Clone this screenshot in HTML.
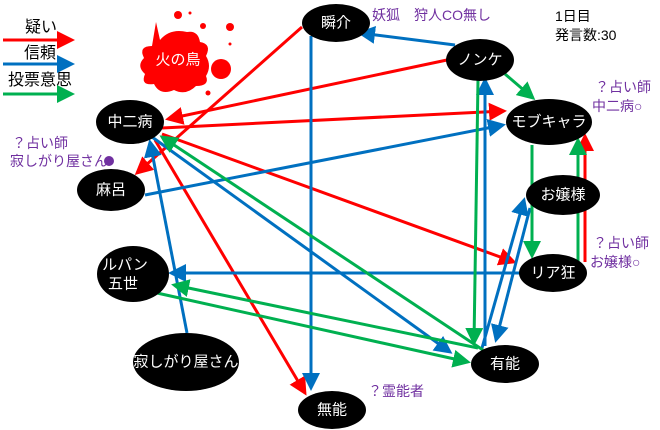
<!DOCTYPE html>
<html><head><meta charset="utf-8"><style>
html,body{margin:0;padding:0;background:#fff;}
svg{display:block;}
text{font-family:"Liberation Sans","Noto Sans CJK JP",sans-serif;}
.n{fill:#fff;font-size:15px;text-anchor:middle;dominant-baseline:central;}
.p{fill:#7030a0;font-size:14px;}
.k{fill:#000;font-size:14px;}
.l{fill:#000;font-size:16px;}
</style></head><body>
<svg width="660" height="430" viewBox="0 0 660 430" xmlns="http://www.w3.org/2000/svg">
<defs>
<marker id="r" markerWidth="6" markerHeight="6" refX="5" refY="3" orient="auto" markerUnits="strokeWidth"><path d="M0,0 L6,3 L0,6 z" fill="#ff0000"/></marker>
<marker id="b" markerWidth="6" markerHeight="6" refX="5" refY="3" orient="auto" markerUnits="strokeWidth"><path d="M0,0 L6,3 L0,6 z" fill="#0070c0"/></marker>
<marker id="g" markerWidth="6" markerHeight="6" refX="5" refY="3" orient="auto" markerUnits="strokeWidth"><path d="M0,0 L6,3 L0,6 z" fill="#00b050"/></marker>
</defs>

<!-- legend -->
<text class="l" x="25" y="32">疑い</text>
<line x1="3" y1="40" x2="72" y2="40" stroke="#ff0000" stroke-width="3" marker-end="url(#r)"/>
<text class="l" x="24" y="58">信頼</text>
<line x1="3" y1="64" x2="72" y2="64" stroke="#0070c0" stroke-width="3" marker-end="url(#b)"/>
<text class="l" x="8" y="85">投票意思</text>
<line x1="3" y1="94" x2="72" y2="94" stroke="#00b050" stroke-width="3" marker-end="url(#g)"/>

<!-- splash -->
<g fill="#ff0000">
<path d="M156,22 L160,40 Q170,28 187,32 Q198,30 200,42 Q212,44 206,56 Q212,66 206,76 Q210,86 196,86 Q186,96 174,90 Q160,96 154,84 Q140,86 145,74 Q136,66 144,58 Q138,46 152,46 Z"/>
<circle cx="178" cy="15" r="4"/><circle cx="190" cy="13" r="1.5"/><circle cx="203" cy="26" r="3"/><circle cx="230" cy="27" r="4"/><circle cx="230" cy="44" r="1.5"/><circle cx="221" cy="69" r="10"/><circle cx="208" cy="93" r="2.5"/>
</g>
<text class="n" x="178" y="60">火の鳥</text>

<!-- lines -->
<g stroke-width="3" fill="none">
<line x1="302" y1="27" x2="137" y2="173" stroke="#ff0000" marker-end="url(#r)"/>
<line x1="447" y1="60" x2="168" y2="119" stroke="#ff0000" marker-end="url(#r)"/>
<line x1="162" y1="128" x2="504" y2="111" stroke="#ff0000" marker-end="url(#r)"/>
<line x1="162" y1="134" x2="514" y2="262" stroke="#ff0000" marker-end="url(#r)"/>
<line x1="155" y1="140" x2="305" y2="393" stroke="#ff0000" marker-end="url(#r)"/>
<line x1="585" y1="262" x2="585" y2="136" stroke="#ff0000" marker-end="url(#r)"/>

<line x1="455" y1="45" x2="360" y2="33" stroke="#0070c0" marker-end="url(#b)"/>
<line x1="311" y1="36" x2="311" y2="388" stroke="#0070c0" marker-end="url(#b)"/>
<line x1="145" y1="195" x2="503" y2="125" stroke="#0070c0" marker-end="url(#b)"/>
<line x1="187" y1="333" x2="150" y2="142" stroke="#0070c0" marker-end="url(#b)"/>
<line x1="152" y1="137" x2="450" y2="352" stroke="#0070c0" marker-end="url(#b)"/>
<line x1="520" y1="273" x2="171" y2="273" stroke="#0070c0" marker-end="url(#b)"/>
<line x1="485" y1="346" x2="485" y2="80" stroke="#0070c0" marker-end="url(#b)"/>
<line x1="482" y1="348" x2="524" y2="200" stroke="#0070c0" marker-end="url(#b)"/>
<line x1="530" y1="208" x2="496" y2="340" stroke="#0070c0" marker-end="url(#b)"/>

<line x1="505" y1="74" x2="533" y2="98" stroke="#00b050" marker-end="url(#g)"/>
<line x1="478" y1="80" x2="474" y2="343" stroke="#00b050" marker-end="url(#g)"/>
<line x1="532" y1="145" x2="532" y2="256" stroke="#00b050" marker-end="url(#g)"/>
<line x1="578" y1="262" x2="578" y2="140" stroke="#00b050" marker-end="url(#g)"/>
<line x1="483" y1="350" x2="162" y2="137" stroke="#00b050" marker-end="url(#g)"/>
<line x1="157" y1="293" x2="468" y2="362" stroke="#00b050" marker-end="url(#g)"/>
<line x1="478" y1="348" x2="174" y2="285" stroke="#00b050" marker-end="url(#g)"/>
</g>

<!-- nodes -->
<g fill="#000">
<ellipse cx="336" cy="23" rx="34" ry="19"/>
<ellipse cx="480" cy="60" rx="34" ry="21"/>
<ellipse cx="549" cy="122" rx="43" ry="23"/>
<ellipse cx="563" cy="195" rx="37" ry="20"/>
<ellipse cx="553" cy="273" rx="34" ry="19"/>
<ellipse cx="505" cy="364" rx="34" ry="19"/>
<ellipse cx="332" cy="410" rx="34" ry="19"/>
<ellipse cx="186" cy="362" rx="53" ry="29"/>
<ellipse cx="133" cy="274" rx="36" ry="28"/>
<ellipse cx="111" cy="190" rx="34" ry="21"/>
<ellipse cx="130" cy="122" rx="34" ry="22"/>
</g>
<text class="n" x="336" y="23">瞬介</text>
<text class="n" x="480" y="60">ノンケ</text>
<text class="n" x="549" y="122">モブキャラ</text>
<text class="n" x="563" y="195">お嬢様</text>
<text class="n" x="553" y="273">リア狂</text>
<text class="n" x="505" y="364">有能</text>
<text class="n" x="332" y="410">無能</text>
<text class="n" x="186" y="362">寂しがり屋さん</text>
<text class="n" x="125" y="265">ルパン</text>
<text class="n" x="123" y="284">五世</text>
<text class="n" x="111" y="190">麻呂</text>
<text class="n" x="130" y="122">中二病</text>

<!-- annotations -->
<text class="p" x="372" y="20">妖狐　狩人CO無し</text>
<text class="k" x="555" y="21">1日目</text>
<text class="k" x="555" y="40">発言数:30</text>
<text class="p" x="595" y="92">？占い師</text>
<text class="p" x="592" y="111">中二病○</text>
<text class="p" x="12" y="148">？占い師</text>
<text class="p" x="10" y="166">寂しがり屋さん</text>
<circle cx="109" cy="161" r="5" fill="#7030a0"/>
<text class="p" x="593" y="248">？占い師</text>
<text class="p" x="590" y="267">お嬢様○</text>
<text class="p" x="368" y="396">？霊能者</text>
</svg>
</body></html>
